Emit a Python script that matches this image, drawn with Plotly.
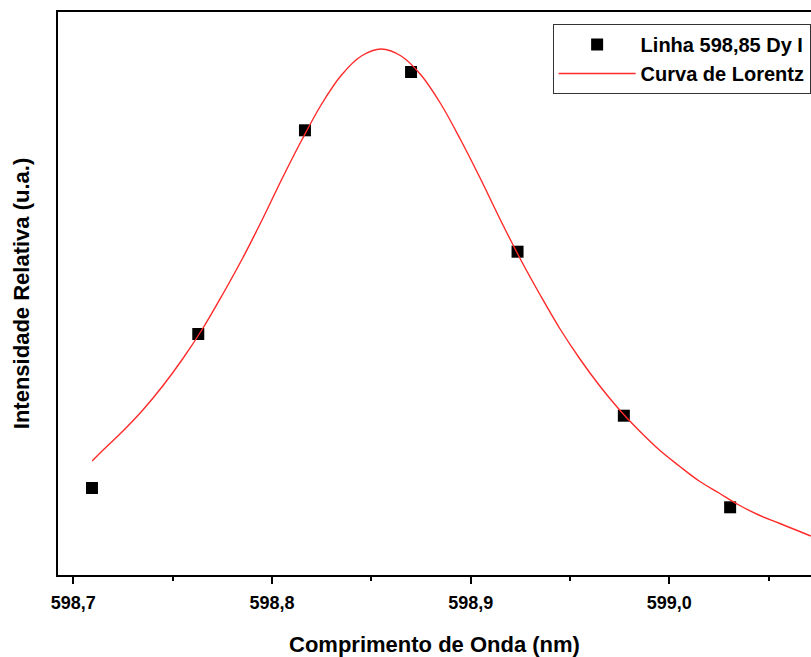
import plotly.graph_objects as go

# Measured data points (wavelength nm, relative intensity a.u.)
wl_pts = [598.7094, 598.7629, 598.8166, 598.8700, 598.9236, 598.9771, 599.0306]
int_pts = [87.0, 241.0, 444.7, 503.0, 323.3, 159.3, 67.7]

# Lorentz fit curve, values at regular wavelengths
wl_fit = [598.7095, 598.715, 598.725, 598.735, 598.745, 598.755, 598.765,
          598.775, 598.785, 598.795, 598.805, 598.815, 598.825, 598.835,
          598.845, 598.855, 598.865, 598.875, 598.885, 598.895, 598.905,
          598.915, 598.925, 598.935, 598.945, 598.955, 598.965, 598.975,
          598.985, 598.995, 599.005, 599.015, 599.025, 599.035, 599.045,
          599.055, 599.065, 599.0712]
int_fit = [114, 125, 144, 165, 189, 216, 246,
           280, 316, 355, 396, 435, 471, 500,
           519, 526, 519, 500, 471, 435, 396,
           355, 316, 280, 246, 216, 189, 165,
           144, 125, 109, 94, 82, 70, 60,
           52, 44, 39]

x_ticks = [598.7, 598.8, 598.9, 599.0]
x_ticklabels = ["598,7", "598,8", "598,9", "599,0"]
x_minor = [598.75, 598.85, 598.95, 599.05]

FONT = "Liberation Sans"

fig = go.Figure()
fig.add_trace(go.Scatter(
    x=wl_pts, y=int_pts, mode="markers", name="Linha 598,85 Dy I",
    marker=dict(symbol="square", size=12, color="black",
                line=dict(width=0))))
fig.add_trace(go.Scatter(
    x=wl_fit, y=int_fit, mode="lines", name="Curva de Lorentz",
    line=dict(color="#ff2a2a", width=1.4, shape="spline", smoothing=1.0)))

fig.update_layout(
    width=811, height=657,
    margin=dict(l=58, r=0, t=12, b=82),
    plot_bgcolor="white", paper_bgcolor="white",
    font=dict(family=FONT, color="black"),
    showlegend=True,
    legend=dict(
        x=0.9995, y=0.9787, xanchor="right", yanchor="top",
        bgcolor="white", bordercolor="#333333", borderwidth=1,
        font=dict(family=FONT, size=20, weight="bold", color="black"),
        itemwidth=77, tracegroupgap=0),
)

fig.update_xaxes(
    range=[598.6923, 599.0713],
    tickmode="array", tickvals=x_ticks, ticktext=x_ticklabels,
    ticks="outside", ticklen=7, tickwidth=2, tickcolor="black",
    ticklabelstandoff=3,
    showline=True, linewidth=2, linecolor="black", mirror=True,
    showgrid=False, zeroline=False,
    tickfont=dict(family=FONT, size=18, weight="bold", color="black"),
    minor=dict(tickvals=x_minor, ticks="outside",
               ticklen=4, tickwidth=2, tickcolor="black", showgrid=False),
    title=dict(text="Comprimento de Onda (nm)", standoff=26,
               font=dict(family=FONT, size=22, weight="bold", color="black")),
)
fig.update_yaxes(
    range=[0, 563],
    showticklabels=False, ticks="",
    showline=True, linewidth=2, linecolor="black", mirror=False,
    showgrid=False, zeroline=False,
    title=dict(text="Intensidade Relativa (u.a.)", standoff=20,
               font=dict(family=FONT, size=22, weight="bold", color="black")),
)

fig.write_html("out.html")
